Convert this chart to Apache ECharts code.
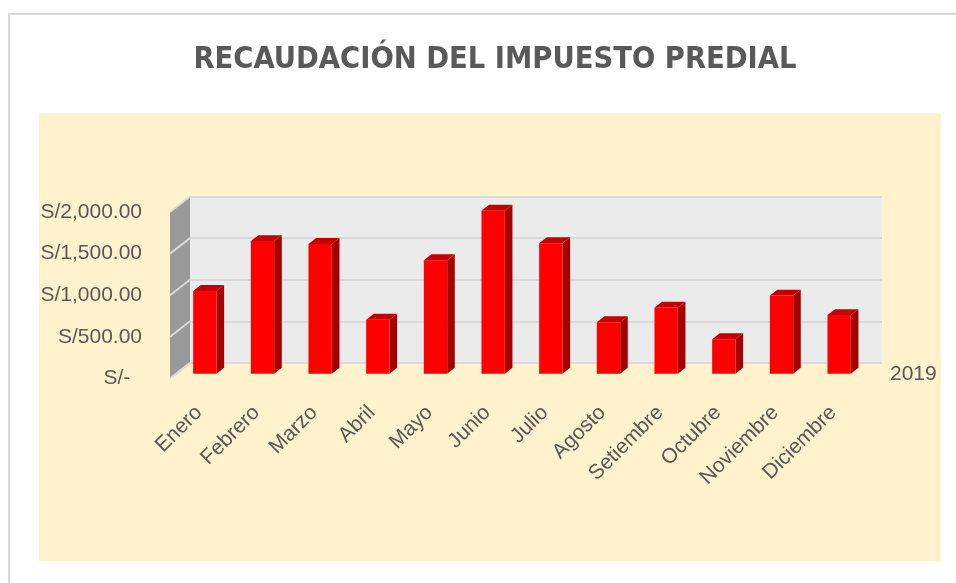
<!DOCTYPE html>
<html>
<head>
<meta charset="utf-8">
<script src="https://cdn.jsdelivr.net/npm/echarts@6/dist/echarts.min.js"></script>
<style>
  html, body { margin: 0; padding: 0; background: #fff; }
  #main { width: 956px; height: 583px; }
</style>
</head>
<body>
<div id="main"></div>
<script>
// datos del grafico
var meses = ['Enero', 'Febrero', 'Marzo', 'Abril', 'Mayo', 'Junio', 'Julio',
  'Agosto', 'Setiembre', 'Octubre', 'Noviembre', 'Diciembre']
var recaudacion2019 = [995, 1595, 1560, 650, 1365, 1960, 1570, 620, 795, 415, 940, 705]
var serieNombre = '2019'
var yTicks = [0, 500, 1000, 1500, 2000]

var GRIS = '#595959'
var FUENTE = "'Liberation Sans', Arial, sans-serif"
var FUENTE_TITULO = "'DejaVu Sans Condensed', 'Liberation Sans Narrow', sans-serif"

// profundidad de la caja 3D (pared frontal -> pared del fondo)
var PX = 20, PY = -15.5
// las barras van de 0.3 a 0.68 de esa profundidad
var F1 = 0.3, F2 = 0.68

var chart = echarts.init(document.getElementById('main'), null, { renderer: 'canvas' })

function etiquetaSoles(v) {
  if (v === 0) return 'S/-  '
  return 'S/' + v.toLocaleString('en-US', { minimumFractionDigits: 2, maximumFractionDigits: 2 })
}

// pared lateral izquierda (gris) con sus lineas
function paredLateral(params, api) {
  var x0 = params.coordSys.x
  var yTop = api.coord([0, yTicks[yTicks.length - 1]])[1]
  var yBot = api.coord([0, 0])[1]
  var hijos = [{
    type: 'polygon',
    shape: { points: [[x0, yTop], [x0 + PX, yTop + PY], [x0 + PX, yBot + PY], [x0, yBot]] },
    style: { fill: '#999999' }
  }]
  yTicks.forEach(function (t) {
    var y = api.coord([0, t])[1]
    hijos.push({
      type: 'line',
      shape: { x1: x0, y1: y, x2: x0 + PX, y2: y + PY },
      style: { stroke: '#d9d9d9', lineWidth: 2 }
    })
  })
  return { type: 'group', children: hijos }
}

// barra 3D: cara frontal, lateral y superior
function barra(params, api) {
  var i = api.value(0), v = api.value(1)
  var arriba = api.coord([i, v])
  var base = api.coord([i, 0])
  var w = api.size([1, 0])[0] * 0.405
  var x0 = arriba[0] - w / 2, x1 = arriba[0] + w / 2
  var dx = PX * (F2 - F1), dy = PY * (F2 - F1)
  return {
    type: 'group',
    children: [
      { type: 'polygon',
        shape: { points: [[x1, arriba[1]], [x1 + dx, arriba[1] + dy], [x1 + dx, base[1] + dy], [x1, base[1]]] },
        style: { fill: '#a50000' } },
      { type: 'polygon',
        shape: { points: [[x0, arriba[1]], [x0 + dx, arriba[1] + dy], [x1 + dx, arriba[1] + dy], [x1, arriba[1]]] },
        style: { fill: '#c40000' } },
      { type: 'rect',
        shape: { x: x0, y: arriba[1], width: w, height: base[1] - arriba[1] },
        style: { fill: '#ff0000' } }
    ]
  }
}

var frenteLeft = 170, frenteTop = 212, ancho = 692, alto = 166.4

var option = {
  animation: false,
  title: {
    text: 'RECAUDACIÓN DEL IMPUESTO PREDIAL',
    left: 490,
    top: 40,
    textAlign: 'center',
    textStyle: { fontSize: 30.5, fontWeight: 'bold', color: GRIS, fontFamily: FUENTE_TITULO }
  },
  graphic: [
    { type: 'rect', z: -10, shape: { x: 9, y: 14, width: 1000, height: 700 },
      style: { fill: '#fff', stroke: '#d9d9d9', lineWidth: 2 } },
    { type: 'rect', z: -9, shape: { x: 39, y: 113, width: 902, height: 448 },
      style: { fill: '#fff2cc' } },
    { type: 'text', x: 890, y: 374,
      style: { text: serieNombre, fontSize: 21, fill: GRIS, fontFamily: FUENTE, verticalAlign: 'middle' } }
  ],
  grid: [
    // pared del fondo
    { left: frenteLeft + PX, top: frenteTop + PY, width: ancho, height: alto,
      show: true, backgroundColor: '#ebebeb', borderWidth: 0 },
    // plano frontal (etiquetas de los ejes, pared lateral)
    { left: frenteLeft, top: frenteTop, width: ancho, height: alto },
    // plano de las barras
    { left: frenteLeft + PX * F1, top: frenteTop + PY * F1, width: ancho, height: alto }
  ],
  xAxis: [
    { gridIndex: 0, type: 'category', data: meses, show: false },
    { gridIndex: 1, type: 'category', data: meses,
      axisLine: { show: false }, axisTick: { show: false },
      axisLabel: { rotate: 45, margin: 31, interval: 0, fontSize: 21, color: GRIS, fontFamily: FUENTE } },
    { gridIndex: 2, type: 'category', data: meses, show: false }
  ],
  yAxis: [
    { gridIndex: 0, type: 'value', min: 0, max: 2000, interval: 500,
      axisLabel: { show: false }, axisLine: { show: false }, axisTick: { show: false },
      splitLine: { show: true, lineStyle: { color: '#d9d9d9', width: 2 } } },
    { gridIndex: 1, type: 'value', min: 0, max: 2000, interval: 500,
      axisLine: { show: false }, axisTick: { show: false }, splitLine: { show: false },
      axisLabel: { margin: 28, fontSize: 21, color: GRIS, fontFamily: FUENTE,
        padding: [10, 0, 0, 0], formatter: etiquetaSoles } },
    { gridIndex: 2, type: 'value', min: 0, max: 2000, interval: 500, show: false, splitLine: { show: false } }
  ],
  series: [
    { type: 'custom', xAxisIndex: 1, yAxisIndex: 1, silent: true, z: 2,
      renderItem: paredLateral, data: [[0, 0]] },
    { type: 'custom', name: serieNombre, xAxisIndex: 2, yAxisIndex: 2, z: 3,
      renderItem: barra,
      data: recaudacion2019.map(function (v, i) { return [i, v] }) }
  ]
}

chart.setOption(option)
</script>
</body>
</html>
